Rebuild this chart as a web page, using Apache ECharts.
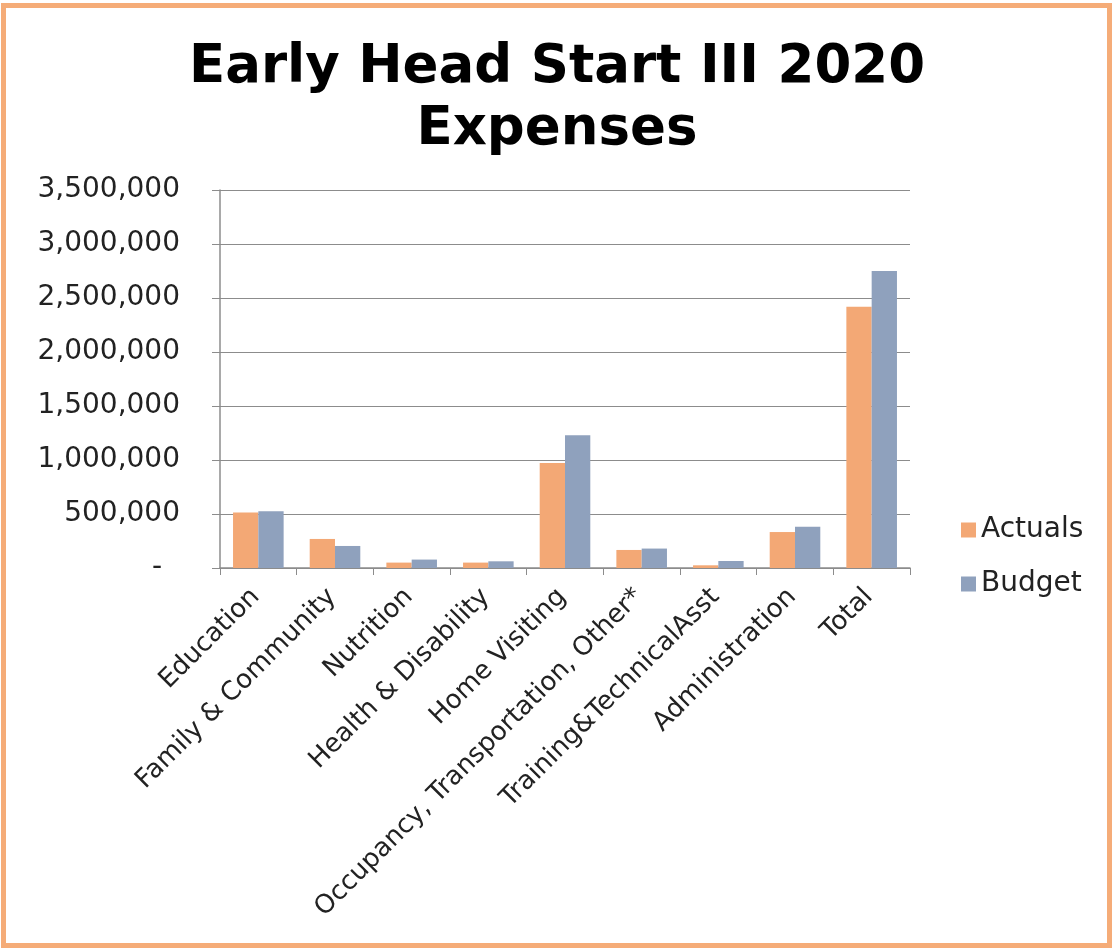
<!DOCTYPE html>
<html>
<head>
<meta charset="utf-8">
<script src="https://cdn.jsdelivr.net/npm/echarts@6/dist/echarts.min.js"></script>
<style>
html,body{margin:0;padding:0;background:#fff;}
#frame{position:absolute;left:1px;top:3px;width:1101px;height:935px;border:5px solid #F5AC78;}
#chart{position:absolute;left:0;top:0;width:1114px;height:950px;}
</style>
</head>
<body>
<div id="frame"></div>
<div id="chart"></div>
<script>
const categories = ["Education","Family & Community","Nutrition","Health & Disability","Home Visiting","Occupancy, Transportation, Other*","Training&TechnicalAsst","Administration","Total"];
const actuals = [513000, 269000, 50000, 50000, 972000, 167000, 25000, 333000, 2420000];
const budget = [525000, 204000, 78000, 62000, 1229000, 180000, 65000, 383000, 2750000];
const yTicks = {min: 0, max: 3500000, interval: 500000};

const chart = echarts.init(document.getElementById('chart'));
const font = "'DejaVu Sans', Verdana, sans-serif";
chart.setOption({
  animation: false,
  textStyle: {fontFamily: font},
  title: {
    text: "Early Head Start III 2020\nExpenses",
    left: 'center',
    top: 32,
    textStyle: {fontFamily: font, fontSize: 53, fontWeight: 'bold', color: '#000', lineHeight: 62}
  },
  legend: {
    orient: 'vertical',
    left: 956,
    top: 511,
    itemWidth: 15,
    itemHeight: 15,
    itemGap: 26,
    icon: 'rect',
    textStyle: {fontFamily: font, fontSize: 28, color: '#222'},
    data: ['Actuals', 'Budget']
  },
  grid: {left: 220, right: 204, top: 190, bottom: 382, containLabel: false},
  xAxis: {
    type: 'category',
    data: categories,
    axisLine: {lineStyle: {color: '#8c8c8c', width: 1.5}},
    axisTick: {show: true, length: 7, lineStyle: {color: '#8c8c8c'}},
    axisLabel: {interval: 0, rotate: 45, fontSize: 26, color: '#222', margin: 22, padding: [0, 4, 0, 0], fontFamily: font}
  },
  yAxis: {
    type: 'value',
    min: yTicks.min, max: yTicks.max, interval: yTicks.interval,
    axisLine: {show: true, lineStyle: {color: '#8c8c8c', width: 1.5}},
    axisTick: {show: true, length: 8, lineStyle: {color: '#8c8c8c'}},
    splitLine: {lineStyle: {color: '#8c8c8c', width: 1.2}},
    axisLabel: {
      fontSize: 28, color: '#222', margin: 40, fontFamily: font,
      formatter: v => v === 0 ? '-  ' : v.toLocaleString('en-US')
    }
  },
  series: [
    {name: 'Actuals', type: 'bar', data: actuals, barGap: '0%', barCategoryGap: '34%',
     itemStyle: {color: '#F3A875'}},
    {name: 'Budget', type: 'bar', data: budget, barGap: '0%', barCategoryGap: '34%',
     itemStyle: {color: '#8FA1BD'}}
  ]
});
</script>
</body>
</html>
